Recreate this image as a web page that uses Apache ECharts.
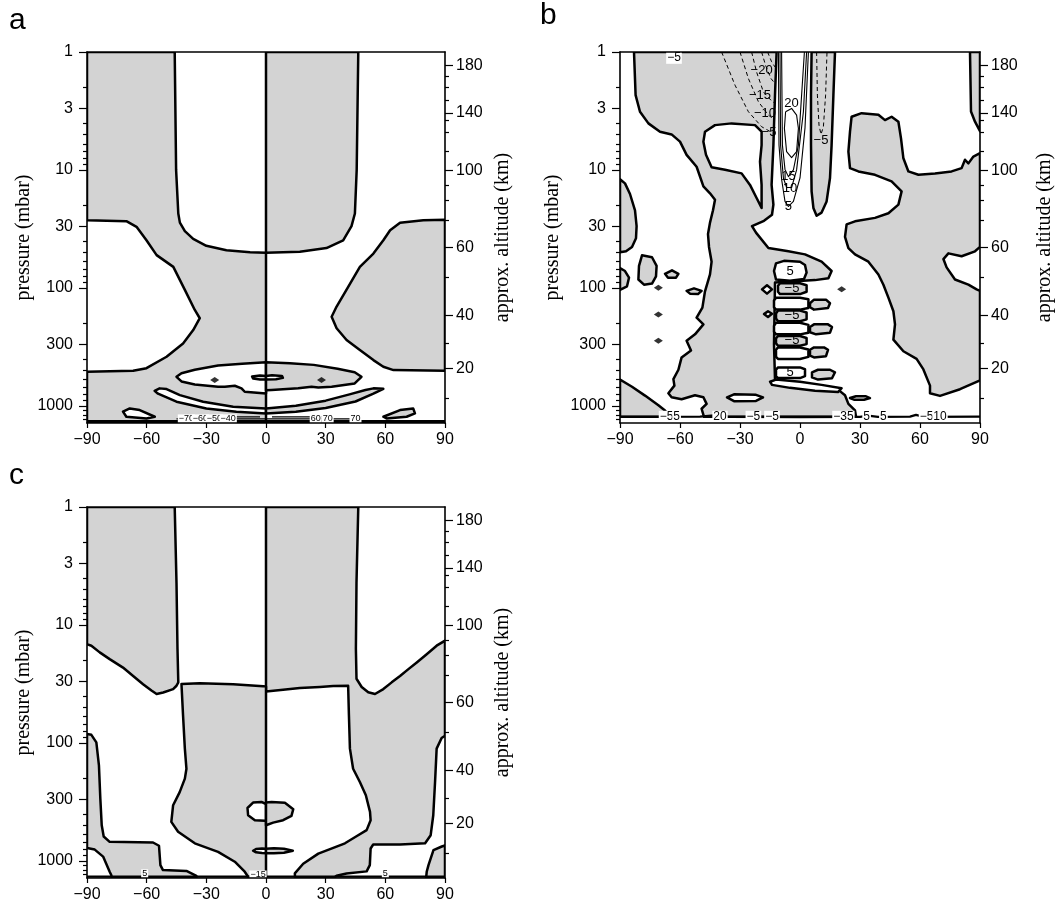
<!DOCTYPE html>
<html>
<head>
<meta charset="utf-8">
<script src="https://cdn.jsdelivr.net/npm/echarts@6/dist/echarts.min.js"></script>
<style>
  html, body { margin: 0; padding: 0; background: #fff; }
  #chart { width: 1059px; height: 909px; }
</style>
</head>
<body>
<div id="chart"></div>
<script>
// ---------------------------------------------------------------------------
// Axes: latitude (deg) on x, pressure (mbar, log) on the left, altitude on the right
// ---------------------------------------------------------------------------
const latTicks = [-90, -60, -30, 0, 30, 60, 90];
const pressureTop = 1;
const pressureSurface = 1400;
const pressureLabels = [1, 3, 10, 30, 100, 300, 1000];
const pressureMinorTicks = [2, 4, 5, 6, 7, 8, 9, 20, 40, 50, 60, 70, 80, 90,
  200, 400, 500, 600, 700, 800, 900, 1100, 1200, 1300];
const altitudeLabelKm = [20, 40, 60, 100, 140, 180];
const altitudeLabelP = [483, 171, 45.5, 10.1, 3.29, 1.30];
const altitudeMinorKm = [10, 30, 50, 70, 80, 90, 110, 120, 130, 150, 160, 170];
const altitudeMinorP = [867, 296, 81, 26.7, 18.1, 13.5, 6.95, 4.83, 3.8, 2.56, 2.0, 1.6];

// ---------------------------------------------------------------------------
// Panel a : closed contours, [latitude, pressure]
// ---------------------------------------------------------------------------
const aWestShade = [[-90,1],[-45.9,1],[-45.2,10],[-44.1,23.4],[-43.3,28],[-40.8,33],[-36.6,38.5],[-30,44],[-19.9,48],[-8,50],[0,50.5],[0,1400],[-90,1400],[-90,515],[-66.8,505],[-60.1,480],[-50,384],[-41.7,296],[-36.6,228],[-33.3,181],[-35.8,154],[-40.8,104],[-46.6,66.4],[-55,52.8],[-60.1,39.5],[-65.1,30.4],[-70.2,27.2],[-90,26.7]];
const aTopShade = [[0,1],[46.4,1],[45.6,10],[44.7,23.4],[43,30],[38.8,39.5],[30.4,46],[17,49.5],[0,50.5]];
const aEastShade = [[90,26.4],[79.1,26.7],[67.4,28.1],[62.4,32.5],[59,39.5],[54,51.2],[47.2,66.4],[41.4,97.8],[35.5,144],[33,176],[35.5,220],[40.5,277],[47.2,337],[54,410],[59,467],[64.1,498],[90,505]];
const aLensWest = [[0,428],[-12,440],[-24.1,455],[-35.8,495],[-42.5,530],[-45,568],[-42.5,622],[-35.8,660],[-24.1,690],[-20.7,690],[-15.7,676],[-12.3,711],[-10.7,761],[0,786]];
const aLensEast = [[0,428],[12,436],[24,450],[36,485],[44.6,520],[48,568],[44.6,647],[33,690],[26.3,700],[22.9,690],[16.2,711],[2.8,736],[0,740]];
const aBlobWest = [[0,558],[-3,553],[-7,565],[-6.5,588],[-3,598],[0,598]];
const aBlobEast = [[0,558],[3,550],[8,558],[8.5,580],[5,596],[0,598]];
const aCrescentWest = [[-56,748],[-53.5,712],[-50,722],[-43.3,812],[-31.6,924],[-16.5,1019],[0,1053],[0,1161],[-14.9,1124],[-30,1053],[-45,924],[-54.3,790]];
const aCrescentEast = [[59,718],[54,712],[50,735],[42,800],[30,905],[15,1000],[0,1053],[0,1161],[15,1124],[30,1045],[45,920],[54,790]];
const aSideWest = [[-71.9,1120],[-68.5,1053],[-63.5,1088],[-55.9,1239],[-60.1,1280],[-70.2,1239]];
const aSideEast = [[59,1239],[67.4,1088],[74,1053],[74.9,1161],[70.7,1239],[60.6,1280]];
const aNodes = [[-25.8,606],[27.9,606]];
const aSurfaceLine = [[-90,1360],[90,1360]];
const aNearSurfaceLines = [
  [[-45,1292],[45,1292]],
  [[-30,1240],[-3,1240]],
  [[3,1240],[30,1240]]
];
const aSurfaceLabels = [['\u221270',-40,1292],['\u221260',-33,1292],['\u221250',-26,1292],['\u221240',-19,1292],
  ['60',25,1292],['70',31,1292],['70',45,1292]];

// ---------------------------------------------------------------------------
// Panel b
// ---------------------------------------------------------------------------
const bMainShade = [[-83,1],[-11.7,1],[-12.5,2.32],[-13.3,6.16],[-14.2,13.4],[-13.3,19.7],[-14,24],[-18,27],[-24,30],[-22,34],[-15.8,46],[-5.8,49],[2.5,52],[10.8,60],[15.8,72],[14.2,83],[7.5,86],[-12.5,90],[-13,300],[-12.5,600],[0,640],[10.8,690],[19.2,733],[22.5,815],[24.2,963],[27.5,1095],[28,1240],[-48,1240],[-49.2,1060],[-46.7,963],[-48.3,847],[-52.5,815],[-59.2,880],[-64.2,847],[-65.8,782],[-62.8,675],[-63.3,594],[-60.8,495],[-59.2,389],[-54.5,340],[-56.7,281],[-52.5,248],[-48.3,204],[-51.7,179],[-48.8,147],[-47.5,107],[-45,77],[-44.2,60],[-45.5,45],[-46,35],[-45,28],[-43.5,22],[-42.5,17.9],[-45,15.8],[-48.3,13.8],[-51.7,9.4],[-56.7,7.45],[-60,5.76],[-64.2,5],[-70,4.74],[-75.8,4.03],[-80,3.21],[-82.2,2.32]];
const bEastShade = [[25.8,3.54],[30.8,3.3],[39.2,3.4],[42.5,3.78],[45.8,3.54],[49.2,3.9],[50.5,5.4],[51.7,7.97],[54.2,10.3],[59.2,11],[67.5,10.7],[75.8,10.3],[80.8,9.66],[82.5,8.2],[84.2,8.8],[86.7,7.7],[90,7.2],[90,45],[87.5,49],[80.8,54],[74.2,51],[71.7,57],[73.3,67],[77.5,85],[84.2,94],[88.3,103],[90,106],[90,608],[80,724],[70,825],[65,782],[65,675],[61.7,492],[58.3,400],[51.7,345],[46.7,275],[47.5,204],[46.7,158],[44.2,121],[41.7,94],[39.2,77],[34.2,60],[27.5,52],[24.2,46],[22.5,37],[23.3,29],[27.5,27.3],[37.5,25.5],[44.2,23.3],[49.2,19.7],[50.8,15.2],[45.8,12.5],[37.5,11],[29.2,10.3],[25,9.66],[24.2,7],[25,4.74]];
const bJetShade = [[5.8,1],[5.5,2.32],[5.5,6.16],[5.8,15.2],[6.7,21],[8.3,24.5],[10.8,23],[13.3,18.5],[15,11.7],[15.8,6.16],[16.7,2.32],[17.5,1]];
const bSouthWall = [[-90,12],[-87.5,13],[-85,16],[-82.5,22],[-81.7,30],[-82,38],[-84,45],[-87,49],[-90,50]];
const bSouthWall2 = [[-90,68],[-87.5,72],[-85.5,82],[-86.5,97],[-90,104]];
const bNorthCap = [[85,1],[90,1],[90,4.7],[87.5,3.9],[85.5,3.2]];
const bSouthSurface = [[-90,600],[-84,690],[-77.5,820],[-70.8,990],[-67.5,1095],[-65,1240],[-90,1240]];
const bIsland = [[-47.5,4.74],[-42.5,4.17],[-34.2,4.03],[-22.5,4.17],[-19.2,4.74],[-19.2,6.16],[-20,8.5],[-19.2,13.4],[-19.2,21],[-21.7,17.3],[-25,13.4],[-29.2,10.7],[-37.5,9.97],[-44.2,9.5],[-47,7.45],[-48.3,5.76]];
const bBlobs = [
  [[-79,53],[-74,55],[-71.7,65],[-72,80],[-74,92],[-78,94],[-80.8,85],[-80.5,65]],
  [[-67.5,76],[-64,71],[-60.8,76],[-62,82],[-66,82]],
  [[-56.7,106],[-53,101],[-49.2,106],[-51,113],[-55,112]]
];
const bHoles = [
  [[-19,103],[-16.5,95],[-14,103],[-16.5,112]],
  [[-18,167],[-16,158],[-14,166],[-16,177]]
];
// stacked cells near the equator, top to bottom
const bCellsPositive = [
  [[-13,72],[-12,62],[-8,59],[0,60],[2.5,64],[3.3,74],[2,84],[-5,87],[-12,85]],
  [[-13,128],[-12,121.5],[0,121.5],[4.2,125],[4.2,148],[0,153],[-12,153],[-13,146]],
  [[-13,210],[-12,198],[0,198],[4.2,206],[4.2,240],[0,248],[-12,248],[-13,236]],
  [[-12,335],[-11,320],[0,320],[4.2,333],[4.2,385],[0,401],[-11,401],[-12,385]],
  [[-12,495],[-11,473],[0,473],[2.5,490],[2.5,560],[0,582],[-11,582],[-12,560]],
  [[-15,625],[-12,600],[0,625],[10.8,665],[20.8,710],[19,765],[7.5,745],[-5,705],[-14,665]],
  [[-36.5,850],[-33,800],[-22,808],[-18.5,850],[-22,910],[-33,915]],
  [[25,860],[28,830],[33,832],[35,860],[32,890],[27,888]]
];
const bCellsNegative = [
  [[-11,96],[-10,91.5],[0,91.5],[3.3,95],[3.3,108],[0,113],[-10,113],[-11,108]],
  [[-12,165],[-11,156],[0,156],[3.3,162],[3.3,185],[0,192],[-11,192],[-12,182]],
  [[-12,268],[-11,256],[0,256],[3.3,266],[3.3,300],[0,310],[-11,310],[-12,296]],
  [[5,135],[7,126],[13,126],[15,135],[14,148],[7,153],[5,146]],
  [[5,215],[7,204],[14,204],[16,215],[15,240],[8,248],[5,238]],
  [[5,335],[7,320],[12,320],[14,335],[13,380],[7,389],[5,375]],
  [[6,520],[9,495],[15,495],[17.5,520],[16,585],[9,600],[6,575]]
];
const bNodes = [[-70.8,100],[-70.8,168],[-70.8,281],[20.8,103]];
// westerly jet: thin solid contours 5..20 m/s
const bJetPositive = [
  [[-10.8,1],[-10.5,6.16],[-9.2,12],[-7.5,18.5],[-5.8,20.4],[-3.3,18.5],[0,11.7],[2.5,4.4],[4.2,1]],
  [[-10,1],[-9.7,6.16],[-8.3,11.7],[-6.7,14.1],[-4.2,14.1],[-1.7,10],[1.7,3.21],[3.3,1]],
  [[-9.2,1],[-8.8,6.16],[-7.5,9.9],[-5.8,11.4],[-3.3,10],[-0.8,6.16],[0.8,2.32],[2.2,1]],
  [[-7.2,3.21],[-7.8,4.44],[-6.7,7.0],[-4.2,7.87],[-1.7,7.0],[-0.8,4.44],[-1.7,3.43],[-4.2,3.01],[-7.2,3.21]]
];
// easterly side: thin dashed contours -5..-25 m/s
const bJetNegative = [
  [[-39.2,1],[-32.5,1.91],[-25.8,3.21],[-19.2,4.3],[-14.2,4.8]],
  [[-30,1],[-25.8,1.68],[-20.8,2.64],[-15.8,3.43],[-13.2,3.7]],
  [[-24.2,1],[-21.7,1.48],[-18.3,2.18],[-14.2,2.6],[-12.5,2.73]],
  [[-19.2,1],[-17.2,1.3],[-14.5,1.68],[-12.5,1.85]],
  [[-16.2,1],[-14.2,1.21],[-12.5,1.34]],
  [[8.3,1],[8.7,2.32],[9.5,4.17],[10.5,5],[11.7,4.3],[12.8,2.32],[13.5,1]]
];
const bSurfaceLine = [[-90,1240],[-50,1235],[-43,1205],[-36,1240],[0,1245],[30,1240],[34,1212],[39,1240],[55,1235],[58,1195],[62,1240],[90,1238]];
const bContourLabels = [['\u221220',-19.2,1.43],['\u221215',-20,2.32],['\u221210',-17.5,3.32],['\u22125',-15.5,4.8],
  ['20',-4.2,2.73],['15',-5.8,11.4],['10',-5,14.3],['5',-5.8,20.4],['\u22125',10.5,5.6],
  ['5',-5,72],['\u22125',-4,101],['\u22125',-4,173],['\u22125',-4,281],['5',-5,525]];
const bEdgeLabels = [['\u22125',-63,1.12],['\u22125',-66.7,1240],['5',-61.7,1240],['20',-40,1240],['\u22125',-23.3,1240],
  ['\u22125',-14,1240],['\u221235',21.7,1240],['5',33.3,1240],['5',41.7,1240],['\u22125',63.3,1240],['10',70,1240]];

// ---------------------------------------------------------------------------
// Panel c
// ---------------------------------------------------------------------------
const cWestShade = [[-90,1],[-45.9,1],[-45,4.4],[-44.5,16],[-44.1,30.7],[-45,32.8],[-46.7,35],[-51.7,37.4],[-55,38.5],[-57.6,36],[-61.8,31.8],[-66.8,27.1],[-71.9,23],[-78.6,19.5],[-83.6,17.1],[-87.8,15],[-90,14.6]];
const cEastShade = [[0,1],[46.4,1],[45.5,4.4],[45.2,16],[45.5,28.6],[48.1,33.6],[51.4,37.3],[54.8,38.5],[59,35],[63.2,30.7],[67.4,27.1],[71.6,23.7],[75.8,20.8],[80.8,17.7],[85.8,15],[90,13.6],[90,87],[88.3,91],[85.8,112],[85,215],[84.1,411],[82.8,607],[80,711],[67.4,728],[53.9,728],[52.6,787],[52.2,1088],[50.6,1230],[40.5,1280],[35.5,1340],[34,1400],[14.6,1400],[14.5,1280],[18.7,1061],[26.3,870],[39.7,711],[45.5,620],[50.6,550],[52.6,453],[52.3,385],[50.2,278],[47.2,215],[43.8,166],[42.2,112],[41.7,58.7],[41.3,32.8],[33.8,33],[27.1,33.6],[17,34.3],[8.6,35.4],[0,36.7]];
const cNorthCorner = [[90,740],[88.4,757],[84.2,813],[81.7,1088],[80.8,1240],[80.5,1400],[90,1400]];
const cSouthLow = [[-90,84],[-87.8,85.5],[-85.3,99],[-84,155],[-83.3,297],[-82.6,500],[-81.6,623],[-78.6,691],[-56.8,700],[-53.8,746],[-53.1,1088],[-51.8,1200],[-40,1220],[-35,1340],[-35,1400],[-77.5,1400],[-77.8,1320],[-78.6,1239],[-81.9,922],[-86.1,804],[-90,778]];
const cCentreShade = [[-42.5,31.7],[-33.3,31.2],[-16.5,31.9],[-1.4,33.1],[0,33.2],[0,1400],[-9,1400],[-9,1366],[-10.7,1239],[-15.7,1019],[-24.1,840],[-35.8,711],[-44.2,568],[-47.6,468],[-46.7,338],[-43.4,262],[-40.8,201],[-40,166],[-40.8,112],[-41.7,58.7]];
const cLoopWest = [[0,330],[-2.3,317],[-6.5,321],[-9.3,357],[-9,411],[-5.6,453],[-0.6,458],[0,455]];
const cLoopEast = [[0,320],[2.8,318],[9.5,322],[13.7,366],[12.8,416],[8.6,453],[3.6,475],[0,500]];
const cRingWest = [[0,790],[-2,786],[-5,795],[-6.5,822],[-5,848],[-2,860],[0,862]];
const cRingEast = [[0,790],[4,784],[9,790],[13.5,822],[9,855],[4,862],[0,862]];
const cSurfaceLine = [[-90,1365],[90,1365]];
const cEdgeLabels = [['5',-61,1290],['5',60,1290],['\u221215',-4,1320]];

// ---------------------------------------------------------------------------
const GRAY = '#d3d3d3';
const WHITE = '#ffffff';
const SANS = '"Liberation Sans", Arial, Helvetica, sans-serif';
const SERIF = '"Liberation Serif", "Times New Roman", serif';
const lg = Math.log10;
const CONTOUR_W = 2.5;

const panels = [
  { left: 87, top: 52, width: 358, height: 371, leftGap: 52, rightGap: 48 },
  { left: 620, top: 52, width: 360, height: 371, leftGap: 57, rightGap: 55 },
  { left: 87, top: 507, width: 358, height: 371, leftGap: 52, rightGap: 48 }
];

const toPx = (api, pts) => pts.map(([lat, p]) => api.coord([lat, lg(p)]));

function fillSeries(g, list) {
  return {
    type: 'custom', coordinateSystem: 'cartesian2d',
    xAxisIndex: g * 2, yAxisIndex: g * 4, clip: true, silent: true, z: 2,
    data: list.map(() => [0, 1]),
    renderItem: (params, api) => {
      const [pts, fill] = list[params.dataIndex];
      return {
        type: 'polygon', z2: params.dataIndex,
        shape: { points: toPx(api, pts) },
        style: { fill, stroke: '#000', lineWidth: CONTOUR_W, lineJoin: 'round' }
      };
    }
  };
}

function lineSeries(g, list, width, dash) {
  return {
    type: 'custom', coordinateSystem: 'cartesian2d',
    xAxisIndex: g * 2, yAxisIndex: g * 4, clip: true, silent: true, z: 3,
    data: list.map(() => [0, 1]),
    renderItem: (params, api) => ({
      type: 'polyline',
      shape: { points: toPx(api, list[params.dataIndex]) },
      style: { fill: null, stroke: '#000', lineWidth: width, lineDash: dash || null, lineJoin: 'round' }
    })
  };
}

function textSeries(g, list, size, bg) {
  return {
    type: 'custom', coordinateSystem: 'cartesian2d',
    xAxisIndex: g * 2, yAxisIndex: g * 4, clip: true, silent: true, z: 5,
    data: list.map(() => [0, 1]),
    renderItem: (params, api) => {
      const [txt, lat, p] = list[params.dataIndex];
      const c = api.coord([lat, lg(p)]);
      return {
        type: 'text', x: c[0], y: c[1],
        style: {
          text: txt, fill: '#000', font: size + 'px ' + SANS,
          align: 'center', verticalAlign: 'middle',
          backgroundColor: bg || null, padding: bg ? [0, 1] : 0
        }
      };
    }
  };
}

function nodeSeries(g, pts) {
  return {
    type: 'scatter', xAxisIndex: g * 2, yAxisIndex: g * 4, silent: true, z: 4,
    symbol: 'diamond', symbolSize: [9, 6], itemStyle: { color: '#000' },
    data: pts.map(([lat, p]) => [lat, lg(p)])
  };
}

const grids = [], xAxes = [], yAxes = [];
const axisLineStyle = { color: '#000', width: 1.6 };
const tickStyle = { color: '#000', width: 1.2 };
panels.forEach((pn, g) => {
  grids.push({ left: pn.left, top: pn.top, width: pn.width, height: pn.height,
    containLabel: false, outerBoundsMode: 'none' });
  xAxes.push({
    type: 'value', gridIndex: g, min: -90, max: 90, interval: 30, position: 'bottom', z: 10,
    axisLine: { show: true, onZero: false, lineStyle: axisLineStyle },
    axisTick: { show: true, length: 5, lineStyle: tickStyle },
    axisLabel: { color: '#000', fontFamily: SANS, fontSize: 16, margin: 9,
      formatter: v => (v < 0 ? '\u2212' + (-v) : String(v)) },
    splitLine: { show: false }
  });
  xAxes.push({
    type: 'value', gridIndex: g, min: -90, max: 90, position: 'top', z: 10,
    axisLine: { show: true, onZero: false, lineStyle: axisLineStyle },
    axisTick: { show: false }, axisLabel: { show: false }, splitLine: { show: false }
  });
  const base = { type: 'value', gridIndex: g, min: lg(pressureTop), max: lg(pressureSurface),
    inverse: true, z: 10, splitLine: { show: false } };
  yAxes.push(Object.assign({}, base, {
    position: 'left',
    name: 'pressure (mbar)', nameLocation: 'middle', nameGap: pn.leftGap, nameRotate: 90,
    nameTextStyle: { fontFamily: SERIF, fontSize: 20, color: '#000' },
    axisLine: { show: true, onZero: false, lineStyle: axisLineStyle },
    axisTick: { show: true, length: 4, lineStyle: tickStyle, customValues: pressureMinorTicks.map(lg) },
    axisLabel: { color: '#000', fontFamily: SANS, fontSize: 16, margin: 14,
      customValues: pressureLabels.map(lg),
      formatter: v => String(Math.round(Math.pow(10, v))) }
  }));
  yAxes.push(Object.assign({}, base, {
    position: 'left', axisLine: { show: false, onZero: false },
    axisTick: { show: true, length: 8, lineStyle: tickStyle, customValues: pressureLabels.map(lg) },
    axisLabel: { show: false }
  }));
  yAxes.push(Object.assign({}, base, {
    position: 'right',
    name: 'approx. altitude (km)', nameLocation: 'middle', nameGap: pn.rightGap, nameRotate: 90,
    nameTextStyle: { fontFamily: SERIF, fontSize: 20, color: '#000' },
    axisLine: { show: true, onZero: false, lineStyle: axisLineStyle },
    axisTick: { show: true, length: 4, lineStyle: tickStyle, customValues: altitudeMinorP.map(lg) },
    axisLabel: { color: '#000', fontFamily: SANS, fontSize: 16, margin: 11,
      customValues: altitudeLabelP.map(lg),
      formatter: v => {
        const i = altitudeLabelP.findIndex(p => Math.abs(lg(p) - v) < 1e-9);
        return i >= 0 ? String(altitudeLabelKm[i]) : '';
      } }
  }));
  yAxes.push(Object.assign({}, base, {
    position: 'right', axisLine: { show: false, onZero: false },
    axisTick: { show: true, length: 8, lineStyle: tickStyle, customValues: altitudeLabelP.map(lg) },
    axisLabel: { show: false }
  }));
});

const series = [
  // panel a
  fillSeries(0, [
    [aWestShade, GRAY], [aTopShade, GRAY], [aEastShade, GRAY],
    [aLensWest, WHITE], [aLensEast, GRAY], [aBlobWest, GRAY], [aBlobEast, WHITE],
    [aCrescentWest, WHITE], [aCrescentEast, GRAY], [aSideWest, WHITE], [aSideEast, GRAY]
  ]),
  lineSeries(0, aNearSurfaceLines, 1.2),
  lineSeries(0, [aSurfaceLine], 3.2),
  textSeries(0, aSurfaceLabels, 9, WHITE),
  nodeSeries(0, aNodes),
  // panel b
  fillSeries(1, [
    [bMainShade, GRAY], [bEastShade, GRAY], [bJetShade, GRAY], [bSouthWall, GRAY],
    [bSouthWall2, GRAY], [bNorthCap, GRAY], [bSouthSurface, GRAY], [bIsland, WHITE]
  ].concat(bHoles.map(h => [h, WHITE]))
   .concat(bBlobs.map(b => [b, GRAY]))
   .concat(bCellsPositive.map(c => [c, WHITE]))
   .concat(bCellsNegative.map(c => [c, GRAY]))),
  lineSeries(1, bJetPositive, 1.1),
  lineSeries(1, bJetNegative, 1.0, [4, 3]),
  lineSeries(1, [bSurfaceLine], 2.3),
  textSeries(1, bContourLabels, 13, null),
  textSeries(1, bEdgeLabels, 12, WHITE),
  nodeSeries(1, bNodes),
  // panel c
  fillSeries(2, [
    [cWestShade, GRAY], [cEastShade, GRAY], [cNorthCorner, GRAY], [cSouthLow, GRAY],
    [cCentreShade, GRAY], [cLoopWest, WHITE], [cLoopEast, GRAY], [cRingWest, WHITE], [cRingEast, GRAY]
  ]),
  lineSeries(2, [cSurfaceLine], 2.3),
  textSeries(2, cEdgeLabels, 9, WHITE)
];

const panelLetters = [['a', 9, 21], ['b', 540, 16], ['c', 9, 476]];

const chart = echarts.init(document.getElementById('chart'), null, { renderer: 'canvas' });
chart.setOption({
  backgroundColor: '#fff',
  animation: false,
  grid: grids,
  xAxis: xAxes,
  yAxis: yAxes,
  series: series,
  graphic: panelLetters.map(([t, x, y]) => ({
    type: 'text', x: x, y: y,
    style: { text: t, font: '30px ' + SANS, fill: '#000', verticalAlign: 'middle' }
  }))
});
</script>
</body>
</html>
